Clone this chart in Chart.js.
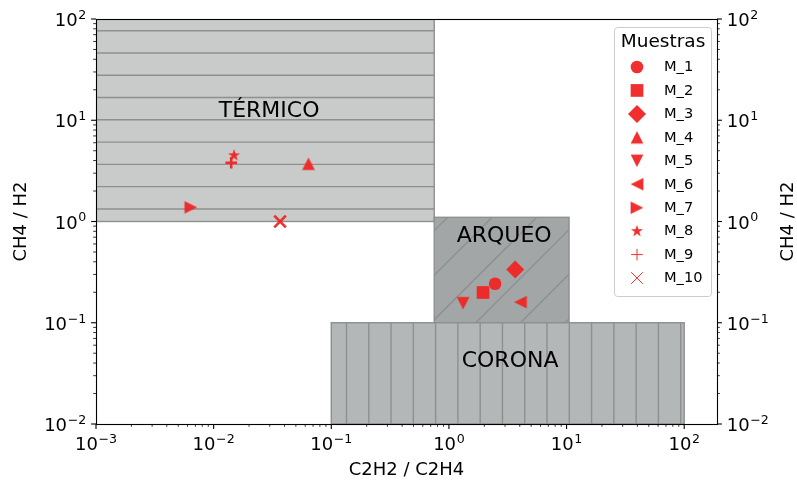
<!DOCTYPE html>
<html><head><meta charset="utf-8">
<script src="https://cdn.jsdelivr.net/npm/chart.js@4.4.1/dist/chart.umd.min.js"></script>
<style>html,body{margin:0;padding:0;background:#fff}#wrap{width:797px;height:487px;position:relative}</style>
</head><body><div id="wrap"><canvas id="c" width="797" height="487"></canvas></div>
<script>
// ---------- data ----------
const sampleNames = ['M_1','M_2','M_3','M_4','M_5','M_6','M_7','M_8','M_9','M_10'];
const ratioC2H2_C2H4 = [2.47, 1.95, 3.66, 0.064, 1.32, 4.05, 0.0064, 0.0149, 0.0141, 0.0367];
const ratioCH4_H2    = [0.243, 0.199, 0.335, 3.72, 0.156, 0.16, 1.38, 4.5, 3.8, 1.0];
const markerNames = ['o','s','D','^','v','<','>','*','+','x'];
const decadeExponents = {'0.001':'−3','0.01':'−2','0.1':'−1','1':'0','10':'1','100':'2'};
const zoneNames  = ['TÉRMICO','ARQUEO','CORONA'];
const zoneX0 = [0.001, 0.75, 0.1];
const zoneX1 = [0.75, 10.5, 100];
const zoneY0 = [1, 0.1, 0.01];
const zoneY1 = [100, 1.1, 0.1];
const zoneLabelX = [0.0296, 2.95, 3.31];
const zoneLabelY = [12.3, 0.72, 0.042];
const xLimits = [0.001, 190];
const yLimits = [0.01, 100];
const xTitle = 'C2H2 / C2H4';
const yTitle = 'CH4 / H2';
const legendTitle = 'Muestras';

// ---------- styles ----------
const RED = 'rgba(240,36,36,0.95)';
const zoneFill  = ['#c9cbca','#a3a6a6','#b4b7b7'];
const zoneEdge  = '#8e9090';
const zoneHatch = ['h','d','v'];
const FONT = 'DejaVu Sans';
const TB = 18, TS = 12.6, TR = 7.4;   // tick label base size, superscript size, raise

function makeMarker(kind, size){
  const c = document.createElement('canvas');
  const S = Math.ceil(size*1.2)+2; c.width = S; c.height = S;
  const g = c.getContext('2d'); g.fillStyle = RED; g.translate(S/2, S/2);
  const h = size/2;
  g.beginPath();
  if (kind === '*'){
    const ro = h*1.0, ri = ro*0.381966;
    for (let i=0;i<10;i++){
      const r = i%2===0 ? ro : ri; const a = -Math.PI/2 + i*Math.PI/5;
      const px = r*Math.cos(a), py = r*Math.sin(a);
      i===0 ? g.moveTo(px,py) : g.lineTo(px,py);
    }
  } else {
    let pts;
    if (kind==='^') pts=[[0,-h],[-h,h],[h,h]];
    if (kind==='v') pts=[[0,h],[-h,-h],[h,-h]];
    if (kind==='<') pts=[[-h,0],[h,-h],[h,h]];
    if (kind==='>') pts=[[h,0],[-h,-h],[-h,h]];
    g.moveTo(pts[0][0],pts[0][1]); g.lineTo(pts[1][0],pts[1][1]); g.lineTo(pts[2][0],pts[2][1]);
  }
  g.closePath(); g.fill();
  return c;
}
const MS = 12.7;
function styleFor(m){
  switch(m){
    case 'o': return {pointStyle:'circle', radius:6.3, borderWidth:0};
    case 's': return {pointStyle:'rect', radius:MS/2/Math.SQRT1_2, borderWidth:0};
    case 'D': return {pointStyle:'rectRot', radius:MS*Math.SQRT1_2, borderWidth:0};
    case '+': return {pointStyle:'cross', radius:5.8, borderWidth:2.6};
    case 'x': return {pointStyle:'crossRot', radius:8.2, borderWidth:2.6};
    default: return {pointStyle:makeMarker(m, MS), radius:6, borderWidth:0};
  }
}

const datasets = sampleNames.map((name,i)=>{
  const st = styleFor(markerNames[i]);
  return {
    label: name,
    data: [{x: ratioC2H2_C2H4[i], y: ratioCH4_H2[i]}],
    pointStyle: st.pointStyle, pointRadius: st.radius, pointHoverRadius: st.radius,
    pointBorderWidth: st.borderWidth, backgroundColor: RED, borderColor: RED,
    yAxisID: 'y'
  };
});
datasets.push({label:'_', data:[], yAxisID:'y2', pointRadius:0});

function logTicks(min, max){
  const out=[];
  for (let e=-4;e<=3;e++) for (let m=1;m<=9;m++){
    const v = Number((m*Math.pow(10,e)).toPrecision(6));
    if (v>=min*0.9999 && v<=max*1.0001) out.push({value:v});
  }
  return out;
}
function isDecade(v){ const l=Math.log10(v); return Math.abs(l-Math.round(l))<1e-6; }
function expFor(v){ return decadeExponents[String(Number(v.toPrecision(6)))]; }

function drawPow(ctx, e, x, y, anchor){
  ctx.font = TB+'px "'+FONT+'"'; const wb = ctx.measureText('10').width;
  ctx.font = TS+'px "'+FONT+'"'; const ws = ctx.measureText(e).width;
  const W = wb + ws + 0.6;
  let x0, base;
  if (anchor==='top'){ x0 = x - W/2; base = y + TR + 0.729*TS; }
  else if (anchor==='right'){ x0 = x - W; base = y + 7.2; }
  else { x0 = x; base = y + 7.2; }
  ctx.textAlign='left'; ctx.textBaseline='alphabetic'; ctx.fillStyle='#000';
  ctx.font = TB+'px "'+FONT+'"'; ctx.fillText('10', x0, base);
  ctx.font = TS+'px "'+FONT+'"'; ctx.fillText(e, x0 + wb + 0.6, base - TR);
}

const zonesPlugin = {
  id:'zones',
  beforeDatasetsDraw(chart){
    const {ctx, scales:{x,y}} = chart;
    const ca = chart.chartArea;
    ctx.save();
    ctx.beginPath(); ctx.rect(ca.left, ca.top, ca.right-ca.left, ca.bottom-ca.top); ctx.clip();
    for (let i=0;i<zoneNames.length;i++){
      const l = x.getPixelForValue(zoneX0[i]), r = x.getPixelForValue(zoneX1[i]);
      const t = y.getPixelForValue(zoneY1[i]), b = y.getPixelForValue(zoneY0[i]);
      ctx.fillStyle = zoneFill[i];
      ctx.fillRect(l,t,r-l,b-t);
      ctx.save();
      ctx.beginPath(); ctx.rect(l,t,r-l,b-t); ctx.clip();
      ctx.strokeStyle = zoneEdge; ctx.lineWidth = 1.4;
      ctx.beginPath();
      if (zoneHatch[i]==='h'){
        for (let yy=30.7-22.28*3; yy<b+1; yy+=22.28){ if (yy>t-2){ ctx.moveTo(l,yy); ctx.lineTo(r,yy);} }
      } else if (zoneHatch[i]==='v'){
        for (let xx=346.5-22.28*20; xx<r+1; xx+=22.28){ if (xx>l-2){ ctx.moveTo(xx,t); ctx.lineTo(xx,b);} }
      } else {
        for (let s=709.5-44.56*20; s<r+b+50; s+=44.56){
          if (s>l+t-50){ ctx.moveTo(s-t+200, t-200); ctx.lineTo(s-b-200, b+200); }
        }
      }
      ctx.stroke();
      ctx.restore();
      ctx.strokeStyle = zoneEdge; ctx.lineWidth = 1.4;
      ctx.strokeRect(l,t,r-l,b-t);
    }
    ctx.restore();
    ctx.save();
    ctx.fillStyle = '#000'; ctx.font = '22px "'+FONT+'"'; ctx.textAlign='center'; ctx.textBaseline='middle';
    for (let i=0;i<zoneNames.length;i++){
      ctx.fillText(zoneNames[i], x.getPixelForValue(zoneLabelX[i]), y.getPixelForValue(zoneLabelY[i]));
    }
    ctx.restore();
  },
  afterDraw(chart){
    const {ctx} = chart; const ca = chart.chartArea;
    ctx.save();
    ctx.strokeStyle='#000'; ctx.lineWidth=1.1;
    ctx.strokeRect(Math.round(ca.left)+0.5, Math.round(ca.top)+0.5, Math.round(ca.right-ca.left), Math.round(ca.bottom-ca.top));
    const sx = chart.scales.x, sy = chart.scales.y, sy2 = chart.scales.y2;
    const drawT = (scale, dir) => {
      scale.ticks.forEach(tk=>{
        const v = tk.value; const maj = isDecade(v);
        const L = maj ? 4.9 : 2.8; ctx.lineWidth = maj ? 1.1 : 0.8;
        const p = scale.getPixelForValue(v);
        ctx.strokeStyle='#000';
        ctx.beginPath();
        if (dir==='b'){ ctx.moveTo(p, ca.bottom); ctx.lineTo(p, ca.bottom+L); }
        if (dir==='l'){ ctx.moveTo(ca.left, p); ctx.lineTo(ca.left-L, p); }
        if (dir==='r'){ ctx.moveTo(ca.right, p); ctx.lineTo(ca.right+L, p); }
        ctx.stroke();
        if (maj){
          const e = expFor(v);
          if (dir==='b') drawPow(ctx, e, p, ca.bottom+9.8, 'top');
          if (dir==='l') drawPow(ctx, e, ca.left-9.8, p, 'right');
          if (dir==='r') drawPow(ctx, e, ca.right+9.8, p, 'left');
        }
      });
    };
    drawT(sx,'b'); drawT(sy,'l'); drawT(sy2,'r');
    ctx.fillStyle='#000'; ctx.font='18px "'+FONT+'"'; ctx.textAlign='center'; ctx.textBaseline='middle';
    ctx.translate(788, (ca.top+ca.bottom)/2); ctx.rotate(-Math.PI/2); ctx.fillText(yTitle, 0, 0);
    ctx.restore();
    // legend
    ctx.save();
    const bx=614, by=27, bw=97, bh=269;
    ctx.fillStyle='rgba(255,255,255,0.8)'; ctx.strokeStyle='#cccccc'; ctx.lineWidth=1;
    ctx.beginPath(); ctx.roundRect(bx+0.5,by+0.5,bw,bh,3); ctx.fill(); ctx.stroke();
    ctx.fillStyle='#000'; ctx.textAlign='center'; ctx.textBaseline='middle'; ctx.font='18.5px "'+FONT+'"';
    ctx.fillText(legendTitle, bx+bw/2+0.5, 42);
    ctx.font='14.6px "'+FONT+'"'; ctx.textAlign='left';
    chart.data.datasets.forEach((ds,i)=>{
      if (ds.label==='_') return;
      const yy = 67 + i*23.45;
      ctx.fillStyle = RED; ctx.strokeStyle = RED;
      Chart.helpers.drawPoint(ctx, {pointStyle: ds.pointStyle, radius: ds.pointRadius, borderWidth: ds.pointBorderWidth, rotation:0}, 637, yy);
      ctx.fillStyle='#000';
      ctx.fillText(ds.label, 664, yy+0.5);
    });
    ctx.restore();
  }
};

const chart = new Chart(document.getElementById('c'), {
  type:'scatter',
  data:{datasets},
  options:{
    responsive:false, animation:false, devicePixelRatio:1,
    layout:{padding:{top:19, right:0, left:0, bottom:0}},
    plugins:{legend:{display:false}, tooltip:{enabled:false}},
    scales:{
      x:{type:'logarithmic', position:'bottom', min:xLimits[0], max:xLimits[1],
        afterBuildTicks: s=>{ s.ticks = logTicks(xLimits[0], xLimits[1]); },
        afterFit: s=>{ s.height = 63; },
        grid:{display:false, drawTicks:false}, border:{display:false},
        ticks:{display:false, autoSkip:false},
        title:{display:true, text:xTitle, color:'#000', font:{family:FONT,size:18}, padding:{top:0,bottom:6}}
      },
      y:{type:'logarithmic', position:'left', min:yLimits[0], max:yLimits[1],
        afterBuildTicks: s=>{ s.ticks = logTicks(yLimits[0], yLimits[1]); },
        afterFit: s=>{ s.width = 96; },
        grid:{display:false, drawTicks:false}, border:{display:false},
        ticks:{display:false, autoSkip:false},
        title:{display:true, text:yTitle, color:'#000', font:{family:FONT,size:18}, padding:{top:11,bottom:0}}
      },
      y2:{type:'logarithmic', position:'right', min:yLimits[0], max:yLimits[1],
        afterBuildTicks: s=>{ s.ticks = logTicks(yLimits[0], yLimits[1]); },
        afterFit: s=>{ s.width = 80; },
        grid:{display:false, drawTicks:false}, border:{display:false},
        ticks:{display:false, autoSkip:false}
      }
    }
  },
  plugins:[zonesPlugin]
});
</script></body></html>
